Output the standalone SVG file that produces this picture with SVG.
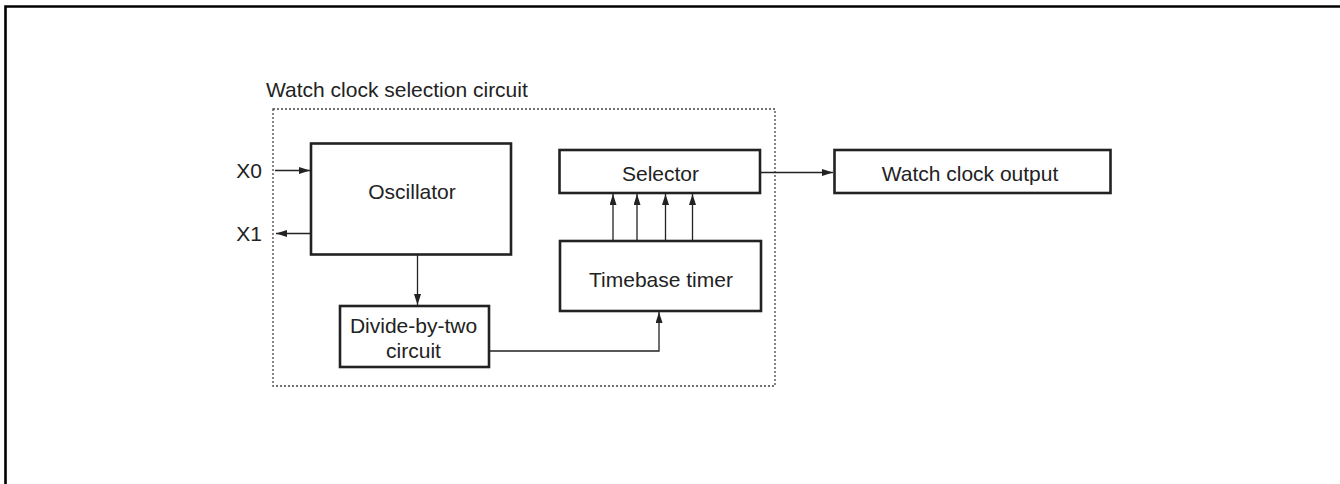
<svg xmlns="http://www.w3.org/2000/svg" width="1340" height="484" viewBox="0 0 1340 484">
<defs>
<style>
.frame{fill:none;stroke:#000;stroke-width:2.6}
.box{fill:#fff;stroke:#222;stroke-width:2.6}
.dot{fill:none;stroke:#444;stroke-width:1.3;stroke-dasharray:2 2}
.con{fill:none;stroke:#222;stroke-width:1.3}
text{font-family:"Liberation Sans",Arial,sans-serif;font-size:21px;fill:#222}
.c{text-anchor:middle}
.e{text-anchor:end}
</style>
<marker id="ah" viewBox="0 0 11 7" refX="11" refY="3.5" markerWidth="11" markerHeight="7" markerUnits="userSpaceOnUse" orient="auto">
<path d="M0,0 L11,3.5 L0,7 Z" fill="#222"/>
</marker>
</defs>
<rect width="1340" height="484" fill="#fff"/>
<path class="frame" d="M5.5,490 V6.5 H1345"/>
<g id="selection-circuit">
<rect class="dot" x="273" y="109" width="502" height="277"/>
<text x="266" y="97">Watch clock selection circuit</text>
</g>
<g id="x0"><text class="e" x="262" y="178">X0</text></g>
<g id="x1"><text class="e" x="262" y="241">X1</text></g>
<g id="oscillator">
<rect class="box" x="311" y="143.5" width="200" height="111"/>
<text class="c" x="412" y="199">Oscillator</text>
</g>
<g id="divider">
<rect class="box" x="340" y="306" width="149" height="61"/>
<text class="c" x="413.5" y="333">Divide-by-two</text>
<text class="c" x="413.5" y="358">circuit</text>
</g>
<g id="timebase">
<rect class="box" x="560" y="241" width="201" height="70"/>
<text class="c" x="661" y="287">Timebase timer</text>
</g>
<g id="selector">
<rect class="box" x="559.5" y="150" width="200.5" height="43"/>
<text class="c" x="660.5" y="181">Selector</text>
</g>
<g id="output">
<rect class="box" x="834.5" y="150" width="276" height="43"/>
<text class="c" x="970" y="181">Watch clock output</text>
</g>
<g id="connectors">
<path class="con" d="M275,170.5 H310" marker-end="url(#ah)"/>
<path class="con" d="M310,233.5 H276" marker-end="url(#ah)"/>
<path class="con" d="M417.5,255 V305" marker-end="url(#ah)"/>
<path class="con" d="M489,351 H659 V312" marker-end="url(#ah)"/>
<path class="con" d="M613,240 V194" marker-end="url(#ah)"/>
<path class="con" d="M637,240 V194" marker-end="url(#ah)"/>
<path class="con" d="M665.5,240 V194" marker-end="url(#ah)"/>
<path class="con" d="M692.5,240 V194" marker-end="url(#ah)"/>
<path class="con" d="M761,172.5 H833" marker-end="url(#ah)"/>
</g>
</svg>
